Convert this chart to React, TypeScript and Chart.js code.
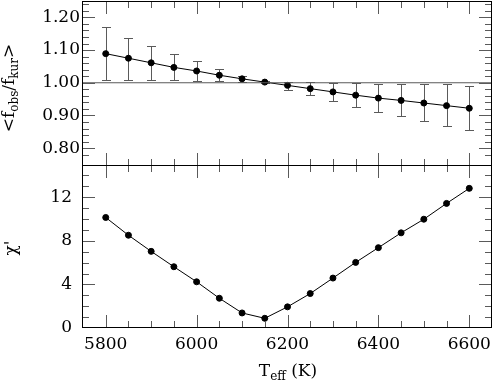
import React, { useEffect, useRef } from "react";
import { Chart, registerables } from "chart.js";

Chart.register(...registerables);

// ---- data ----
const teff = [5800, 5850, 5900, 5950, 6000, 6050, 6100, 6150, 6200, 6250, 6300, 6350, 6400, 6450, 6500, 6550, 6600];
const fluxRatio = [1.089, 1.075, 1.061, 1.047, 1.036, 1.023, 1.012, 1.002, 0.992, 0.982, 0.972, 0.962, 0.953, 0.946, 0.938, 0.930, 0.922];
const fluxRatioUpper = [1.171, 1.138, 1.111, 1.088, 1.066, 1.042, 1.021, 1.006, 1.002, 1.002, 1.000, 0.998, 0.997, 0.997, 0.995, 0.995, 0.990];
const fluxRatioLower = [1.008, 1.009, 1.009, 1.009, 1.006, 1.004, 1.003, 0.998, 0.978, 0.962, 0.944, 0.927, 0.911, 0.897, 0.883, 0.868, 0.855];
const chiPrime = [10.14, 8.51, 7.03, 5.62, 4.24, 2.73, 1.38, 0.89, 1.94, 3.16, 4.58, 6.02, 7.37, 8.73, 9.98, 11.43, 12.81];
const referenceRatio = 1.0;

// ---- axes ----
const xRange = [5750, 6650];
const ratioRange = [0.75, 1.25];
const chiRange = [0, 15];
const xTickLabels = [5800, 6000, 6200, 6400, 6600];
const ratioTickLabels = [0.8, 0.9, 1.0, 1.1, 1.2];
const chiTickLabels = [0, 4, 8, 12];

// ---- text ----
const ratioTitle = [
  { text: "<", sub: false },
  { text: "f", sub: false },
  { text: "obs", sub: true },
  { text: "/", sub: false },
  { text: "f", sub: false },
  { text: "kur", sub: true },
  { text: ">", sub: false },
];
const chiTitle = [{ text: "\u03C7'", sub: false }];
const xTitle = [
  { text: "T", sub: false },
  { text: "eff", sub: true },
  { text: " (K)", sub: false },
];

const FONT = '"DejaVu Serif"';
const TICK_GRAY = "#5a5a5a";

function drawRich(ctx: CanvasRenderingContext2D, parts: { text: string; sub: boolean }[], cx: number, cy: number, rotate: boolean) {
  ctx.save();
  ctx.translate(cx, cy);
  if (rotate) ctx.rotate(-Math.PI / 2);
  ctx.textBaseline = "alphabetic";
  ctx.textAlign = "left";
  ctx.fillStyle = "#000";
  let total = 0;
  const widths: number[] = [];
  for (const p of parts) {
    ctx.font = `${p.sub ? 12 : 17}px ${FONT}`;
    const w = ctx.measureText(p.text).width;
    widths.push(w);
    total += w;
  }
  let x = -total / 2;
  parts.forEach((p, i) => {
    ctx.font = `${p.sub ? 12 : 17}px ${FONT}`;
    ctx.fillText(p.text, x, p.sub ? 4 : 0);
    x += widths[i];
  });
  ctx.restore();
}

const decorPlugin = {
  id: "decor",
  beforeDatasetsDraw(chart: any) {
    const ctx: CanvasRenderingContext2D = chart.ctx;
    const xs = chart.scales.x;
    const yt = chart.scales.yTop;
    ctx.save();
    ctx.fillStyle = TICK_GRAY;
    teff.forEach((t, i) => {
      const px = Math.round(xs.getPixelForValue(t));
      const hi = Math.round(yt.getPixelForValue(fluxRatioUpper[i]));
      const lo = Math.round(yt.getPixelForValue(fluxRatioLower[i]));
      ctx.fillRect(px, hi, 1, lo - hi + 1);
      ctx.fillRect(px - 4, hi, 9, 1);
      ctx.fillRect(px - 4, lo, 9, 1);
    });
    ctx.restore();
  },
  afterDraw(chart: any) {
    const ctx: CanvasRenderingContext2D = chart.ctx;
    const xs = chart.scales.x;
    const yt = chart.scales.yTop;
    const yb = chart.scales.yBottom;
    const L = Math.round(chart.chartArea.left) - 1;
    const R = Math.round(chart.chartArea.right) - 1;
    const top = Math.round(yt.top);
    const mid = Math.round(yt.bottom);
    const bot = Math.round(yb.bottom) - 1;
    const panels = [
      { s: yt, T: top, B: mid, minorStep: 0.02, majorEvery: 5, lo: ratioRange[0], hi: ratioRange[1] },
      { s: yb, T: mid, B: bot, minorStep: 1, majorEvery: 4, lo: chiRange[0], hi: chiRange[1] },
    ];
    ctx.save();
    ctx.fillStyle = TICK_GRAY;
    for (const p of panels) {
      for (let v = 5800; v <= 6600; v += 50) {
        const len = (v - 5800) % 200 === 0 ? 12 : 6;
        const px = Math.round(xs.getPixelForValue(v));
        ctx.fillRect(px, p.T, 1, len + 1);
        ctx.fillRect(px, p.B - len, 1, len + 1);
      }
      const n0 = Math.round(p.lo / p.minorStep);
      const n1 = Math.round(p.hi / p.minorStep);
      for (let k = n0 + 1; k < n1; k++) {
        const v = k * p.minorStep;
        const len = k % p.majorEvery === 0 ? 12 : 6;
        const py = Math.round(p.s.getPixelForValue(v));
        ctx.fillRect(L, py, len + 1, 1);
        ctx.fillRect(R - len, py, len + 1, 1);
      }
    }
    // frames
    ctx.fillStyle = "#000";
    ctx.fillRect(L, top, R - L + 1, 1);
    ctx.fillRect(L, mid, R - L + 1, 1);
    ctx.fillRect(L, bot, R - L + 1, 1);
    ctx.fillRect(L, top, 1, bot - top + 1);
    ctx.fillRect(R, top, 1, bot - top + 1);
    ctx.restore();

    drawRich(ctx, ratioTitle, 14, 88, true);
    drawRich(ctx, chiTitle, 16, 248, true);
    drawRich(ctx, xTitle, 288, 376, false);
  },
};

function noPadding(s: any) {
  s.paddingTop = 0;
  s.paddingBottom = 0;
  s.paddingLeft = 0;
  s.paddingRight = 0;
}

export default function App() {
  const ref = useRef<HTMLCanvasElement>(null);
  useEffect(() => {
    if (!ref.current) return;
    const tickFont = { family: "DejaVu Serif", size: 17 };
    const chart = new Chart(ref.current, {
      type: "line",
      data: {
        datasets: [
          {
            data: [
              { x: xRange[0], y: referenceRatio },
              { x: xRange[1], y: referenceRatio },
            ],
            yAxisID: "yTop",
            borderColor: TICK_GRAY,
            borderWidth: 1.2,
            pointRadius: 0,
          },
          {
            data: teff.map((t, i) => ({ x: t, y: fluxRatio[i] })),
            yAxisID: "yTop",
            borderColor: "#000",
            borderWidth: 1,
            pointRadius: 3,
            pointBackgroundColor: "#000",
            pointBorderColor: "#000",
            pointBorderWidth: 1,
          },
          {
            data: teff.map((t, i) => ({ x: t, y: chiPrime[i] })),
            yAxisID: "yBottom",
            borderColor: "#000",
            borderWidth: 1,
            pointRadius: 3,
            pointBackgroundColor: "#000",
            pointBorderColor: "#000",
            pointBorderWidth: 1,
          },
        ],
      },
      options: {
        animation: false,
        responsive: false,
        devicePixelRatio: 1,
        events: [],
        layout: { autoPadding: false, padding: { top: 1, right: 1, left: 0, bottom: 0 } },
        plugins: { legend: { display: false }, tooltip: { enabled: false } },
        scales: {
          x: {
            type: "linear",
            position: "bottom",
            min: xRange[0],
            max: xRange[1],
            grid: { display: false, drawTicks: false },
            border: { display: false },
            afterBuildTicks: (s: any) => {
              s.ticks = xTickLabels.map((v) => ({ value: v }));
            },
            ticks: { font: tickFont, color: "#000", padding: 6, maxRotation: 0, autoSkip: false, callback: (v: any) => String(v) },
            afterFit: (s: any) => {
              s.height = 55;
              noPadding(s);
            },
          },
          yBottom: {
            type: "linear",
            position: "left",
            stack: "panels",
            stackWeight: 1,
            weight: 1,
            min: chiRange[0],
            max: chiRange[1],
            grid: { display: false, drawTicks: false },
            border: { display: false },
            afterBuildTicks: (s: any) => {
              s.ticks = chiTickLabels.map((v) => ({ value: v }));
            },
            ticks: { font: tickFont, color: "#000", padding: 11, autoSkip: false, callback: (v: any) => String(v) },
            afterFit: (s: any) => {
              s.width = 83;
              noPadding(s);
            },
          },
          yTop: {
            type: "linear",
            position: "left",
            stack: "panels",
            stackWeight: 1,
            weight: 2,
            min: ratioRange[0],
            max: ratioRange[1],
            grid: { display: false, drawTicks: false },
            border: { display: false },
            afterBuildTicks: (s: any) => {
              s.ticks = ratioTickLabels.map((v) => ({ value: v }));
            },
            ticks: { font: tickFont, color: "#000", padding: 3, autoSkip: false, callback: (v: any) => Number(v).toFixed(2) },
            afterFit: (s: any) => {
              s.width = 83;
              noPadding(s);
            },
          },
        },
      } as any,
      plugins: [decorPlugin],
    });
    return () => chart.destroy();
  }, []);
  return (
    <div style={{ position: "absolute", left: 0, top: 0, width: 493, height: 383, background: "#fff" }}>
      <canvas ref={ref} width={493} height={383} style={{ width: 493, height: 383, display: "block" }} />
    </div>
  );
}
